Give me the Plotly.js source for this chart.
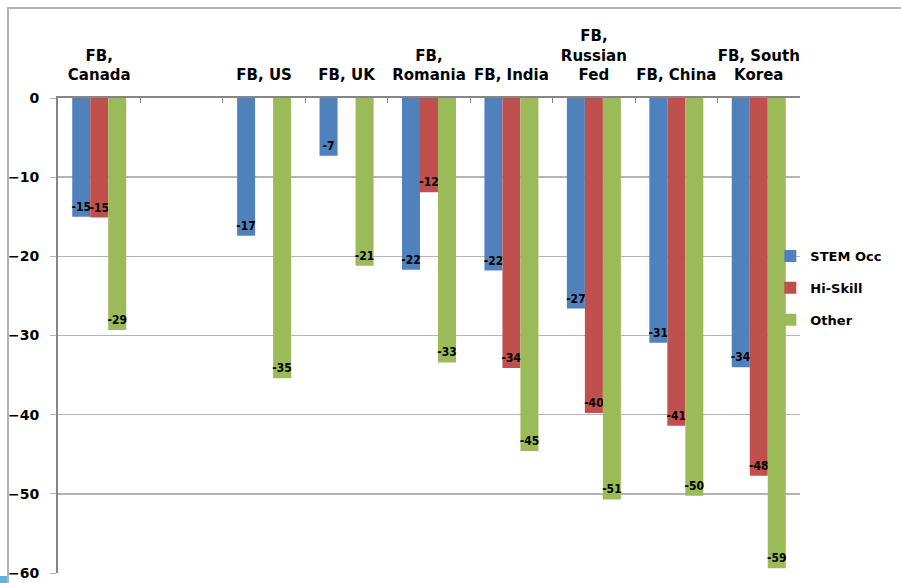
<!DOCTYPE html>
<html>
<head>
<meta charset="utf-8">
<script src="https://cdn.plot.ly/plotly-3.0.1.min.js"></script>
<style>
  html, body { margin: 0; padding: 0; background: #fff; }
  #chart { width: 901px; height: 583px; position: absolute; left: 0; top: 0; }
  #frame { position: absolute; left: 7px; top: 7px; width: 1000px; height: 1000px;
           border-left: 2px solid #b4b4b4; border-top: 2px solid #b4b4b4; pointer-events: none; }
  #handle { position: absolute; left: 0; top: 576px; width: 7px; height: 7px; background: #5fb3dc; }
</style>
</head>
<body>
<div id="chart"></div>
<div id="frame"></div>
<div id="handle"></div>
<script>
// ---- data ----
const categories = ["FB, Canada", "(gap)", "FB, US", "FB, UK", "FB, Romania", "FB, India", "FB, Russian Fed", "FB, China", "FB, South Korea"];
const tickLabels = ["FB,<br>Canada", "", "FB, US", "FB, UK", "FB,<br>Romania", "FB, India", "FB,<br>Russian<br>Fed", "FB, China", "FB, South<br>Korea"];
const stemOcc  = [-15.0, null, -17.4, -7.3, -21.7, -21.8, -26.6, -30.9, -34.0];
const hiSkill  = [-15.1, null, null,  null, -11.9, -34.1, -39.8, -41.4, -47.7];
const other    = [-29.3, null, -35.4, -21.2, -33.4, -44.6, -50.7, -50.25, -59.4];
const seriesNames = ["STEM Occ", "Hi-Skill", "Other"];
const seriesColors = ["#4F81BD", "#C0504D", "#9BBB59"];

const labelFont = {family: "DejaVu Sans Condensed", size: 12, color: "#000", weight: "bold"};

const traces = [stemOcc, hiSkill, other].map((vals, i) => ({
  type: "bar",
  name: seriesNames[i],
  legendgroup: "g" + i,
  x: categories,
  y: vals,
  marker: {color: seriesColors[i]},
  texttemplate: "%{y:.0f}",
  textposition: "inside",
  insidetextanchor: "end",
  constraintext: "none",
  textangle: 0,
  insidetextfont: labelFont,
  hoverinfo: "x+y"
}));

const layout = {
  width: 901,
  height: 583,
  margin: {l: 58, r: 101, t: 98, b: 10},
  paper_bgcolor: "#fff",
  plot_bgcolor: "#fff",
  barmode: "group",
  bargap: 0.345,
  bargroupgap: 0,
  showlegend: true,
  legend: {
    x: 0.96, xanchor: "left",
    y: 0.6, yanchor: "middle",
    bgcolor: "rgba(0,0,0,0)",
    traceorder: "grouped",
    tracegroupgap: 12,
    font: {family: "DejaVu Sans", size: 13, color: "#000", weight: "bold"}
  },
  xaxis: {
    type: "category",
    side: "top",
    categoryorder: "array",
    categoryarray: categories,
    tickvals: categories,
    ticktext: tickLabels,
    tickangle: 0,
    showline: true,
    linecolor: "#868686",
    linewidth: 2,
    ticks: "inside",
    tickson: "boundaries",
    ticklen: 5,
    tickcolor: "#868686",
    tickwidth: 1,
    ticklabelstandoff: 10,
    showgrid: false,
    zeroline: false,
    tickfont: {family: "DejaVu Sans", size: 15, color: "#000", weight: "bold"},
    fixedrange: true
  },
  yaxis: {
    range: [-60, 0],
    dtick: 10,
    tick0: 0,
    showgrid: true,
    gridcolor: "#b4b4b4",
    gridwidth: 1.5,
    zeroline: false,
    showline: true,
    linecolor: "#868686",
    linewidth: 2,
    ticks: "outside",
    ticklen: 6,
    tickcolor: "#b4b4b4",
    ticklabelstandoff: 8,
    tickfont: {family: "DejaVu Sans", size: 14, color: "#000", weight: "bold"},
    fixedrange: true
  }
};

Plotly.newPlot("chart", traces, layout, {displayModeBar: false, staticPlot: true});
</script>
</body>
</html>
